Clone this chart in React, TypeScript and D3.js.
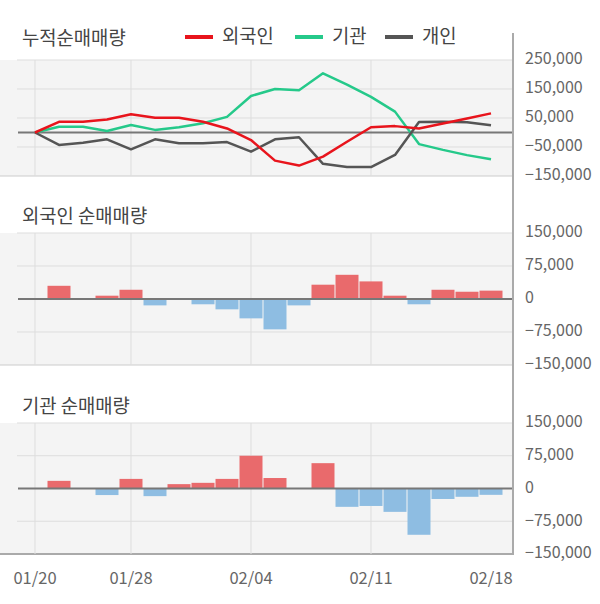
import React, { useEffect, useRef } from 'react';
import * as d3 from 'd3';

const DATES = ['01/20', '01/21', '01/22', '01/23', '01/28', '01/29', '01/30', '01/31', '02/03', '02/04',
  '02/05', '02/06', '02/07', '02/10', '02/11', '02/12', '02/13', '02/14', '02/17', '02/18'];
const X_TICKS = ['01/20', '01/28', '02/04', '02/11', '02/18'];
const GRID_DATES = ['01/20', '01/28', '02/04', '02/11'];

// cumulative net buying (shares)
const CUM_FOREIGN = [0, 37000, 37000, 45000, 63000, 51000, 51000, 37000, 14000, -26000,
  -97000, -114000, -83000, -32000, 18000, 22000, 14000, 31000, 48000, 66000];
const CUM_INST = [0, 20000, 20000, 5000, 26000, 9000, 18000, 32000, 54000, 126000,
  150000, 146000, 204000, 165000, 123000, 72000, -40000, -60000, -78000, -92000];
const CUM_INDIV = [0, -43000, -35000, -23500, -58000, -23500, -37000, -37000, -33000, -66000,
  -23500, -16500, -108000, -119000, -119000, -77500, 36000, 37000, 35000, 25000];

// daily net buying
const DAILY_FOREIGN = [0, 30000, 0, 7500, 21000, -14500, 0, -12000, -23500, -44000,
  -69000, -14500, 32500, 55000, 40000, 7500, -12000, 21000, 16500, 19000];
const DAILY_INST = [0, 17500, 0, -15000, 22000, -17500, 10000, 13000, 22000, 75000,
  24000, 0, 58000, -42000, -40000, -53500, -106000, -24000, -19000, -14500];

const TOP_TICKS = [250000, 150000, 50000, -50000, -150000];
const BAR_TICKS = [150000, 75000, 0, -75000, -150000];

const FONT = '"Noto Sans CJK KR", "Noto Sans", sans-serif';
const RED = '#e8141c';
const GREEN = '#25c98a';
const DARK = '#555555';

export default function App() {
  const svgRef = useRef<SVGSVGElement>(null);

  useEffect(() => {
    const svg = d3.select(svgRef.current);
    svg.selectAll('*').remove();

    const x = d3.scalePoint<string>().domain(DATES).range([35, 491]);
    const plotLeft = 17;
    const plotRight = 513;
    const barW = 23;

    const fmt = d3.format(',');

    const panel = (top: number, bottom: number, domain: [number, number], ticks: number[], last: boolean) => {
      const y = d3.scaleLinear().domain(domain).range([bottom, top]);
      const g = svg.append('g');
      g.append('rect')
        .attr('x', 0).attr('y', top)
        .attr('width', plotRight).attr('height', bottom - top)
        .attr('fill', '#f4f4f4');
      // horizontal grid
      ticks.forEach(t => {
        if (t === 0) return;
        g.append('line')
          .attr('x1', y(t) === bottom ? 0 : plotLeft).attr('x2', plotRight)
          .attr('y1', y(t)).attr('y2', y(t))
          .attr('stroke', y(t) === bottom ? (last ? '#aaaaaa' : '#cccccc') : '#dddddd')
          .attr('stroke-width', y(t) === bottom && last ? 2 : 1);
      });
      // vertical grid
      GRID_DATES.forEach(d => {
        g.append('line')
          .attr('x1', x(d)!).attr('x2', x(d)!)
          .attr('y1', top).attr('y2', bottom)
          .attr('stroke', '#dddddd');
      });
      // right labels
      ticks.forEach(t => {
        svg.append('text')
          .attr('x', 525).attr('y', y(t))
          .attr('dominant-baseline', 'middle')
          .attr('font-family', FONT).attr('font-size', 16)
          .attr('fill', '#666')
          .text(fmt(t));
      });
      return y;
    };

    const zeroLine = (y: d3.ScaleLinear<number, number>) => {
      svg.append('line')
        .attr('x1', 18).attr('x2', plotRight)
        .attr('y1', y(0)).attr('y2', y(0))
        .attr('stroke', '#777').attr('stroke-width', 2);
    };

    // Top: cumulative lines
    const yTop = panel(60, 176, [-150000, 250000], TOP_TICKS, false);
    zeroLine(yTop);
    const line = d3.line<number>()
      .x((_, i) => x(DATES[i])!)
      .y(d => yTop(d));
    [[CUM_INST, GREEN], [CUM_INDIV, DARK], [CUM_FOREIGN, RED]].forEach(([data, color]) => {
      svg.append('path')
        .attr('d', line(data as number[]))
        .attr('fill', 'none')
        .attr('stroke', color as string)
        .attr('stroke-width', 2.5)
        .attr('stroke-linejoin', 'round');
    });

    // Bars
    const bars = (yScale: d3.ScaleLinear<number, number>, data: number[]) => {
      data.forEach((v, i) => {
        if (v === 0) return;
        svg.append('rect')
          .attr('x', x(DATES[i])! - barW / 2)
          .attr('y', yScale(Math.max(0, v)))
          .attr('width', barW)
          .attr('height', Math.abs(yScale(v) - yScale(0)))
          .attr('fill', v > 0 ? '#e96a6c' : '#8ebde2');
      });
      zeroLine(yScale);
    };

    const yMid = panel(233, 365, [-150000, 150000], BAR_TICKS, false);
    bars(yMid, DAILY_FOREIGN);
    const yBot = panel(423, 554, [-150000, 150000], BAR_TICKS, true);
    bars(yBot, DAILY_INST);

    // right axis line
    svg.append('line')
      .attr('x1', plotRight).attr('x2', plotRight)
      .attr('y1', 33).attr('y2', 555)
      .attr('stroke', '#aaaaaa').attr('stroke-width', 2);

    // x labels
    X_TICKS.forEach(d => {
      svg.append('text')
        .attr('x', x(d)!).attr('y', 580)
        .attr('text-anchor', 'middle')
        .attr('dominant-baseline', 'middle')
        .attr('font-family', FONT).attr('font-size', 16.5)
        .attr('fill', '#666')
        .text(d);
    });

    // titles
    const title = (t: string, yy: number) => {
      svg.append('text')
        .attr('x', 22).attr('y', yy)
        .attr('dominant-baseline', 'middle')
        .attr('font-family', FONT).attr('font-size', 18.8)
        .attr('fill', '#444')
        .text(t);
    };
    title('누적순매매량', 40);
    title('외국인 순매매량', 218);
    title('기관 순매매량', 408);

    // legend
    const legend = [['외국인', RED, 185], ['기관', GREEN, 295], ['개인', DARK, 385]] as [string, string, number][];
    legend.forEach(([name, color, lx]) => {
      svg.append('line')
        .attr('x1', lx).attr('x2', lx + 28)
        .attr('y1', 37).attr('y2', 37)
        .attr('stroke', color).attr('stroke-width', 4);
      svg.append('text')
        .attr('x', lx + 37).attr('y', 38)
        .attr('dominant-baseline', 'middle')
        .attr('font-family', FONT).attr('font-size', 18.8)
        .attr('fill', '#444')
        .text(name);
    });
  }, []);

  return (
    <svg ref={svgRef} width={600} height={604}
      style={{ position: 'absolute', left: 0, top: 0, background: '#fff' }} />
  );
}
